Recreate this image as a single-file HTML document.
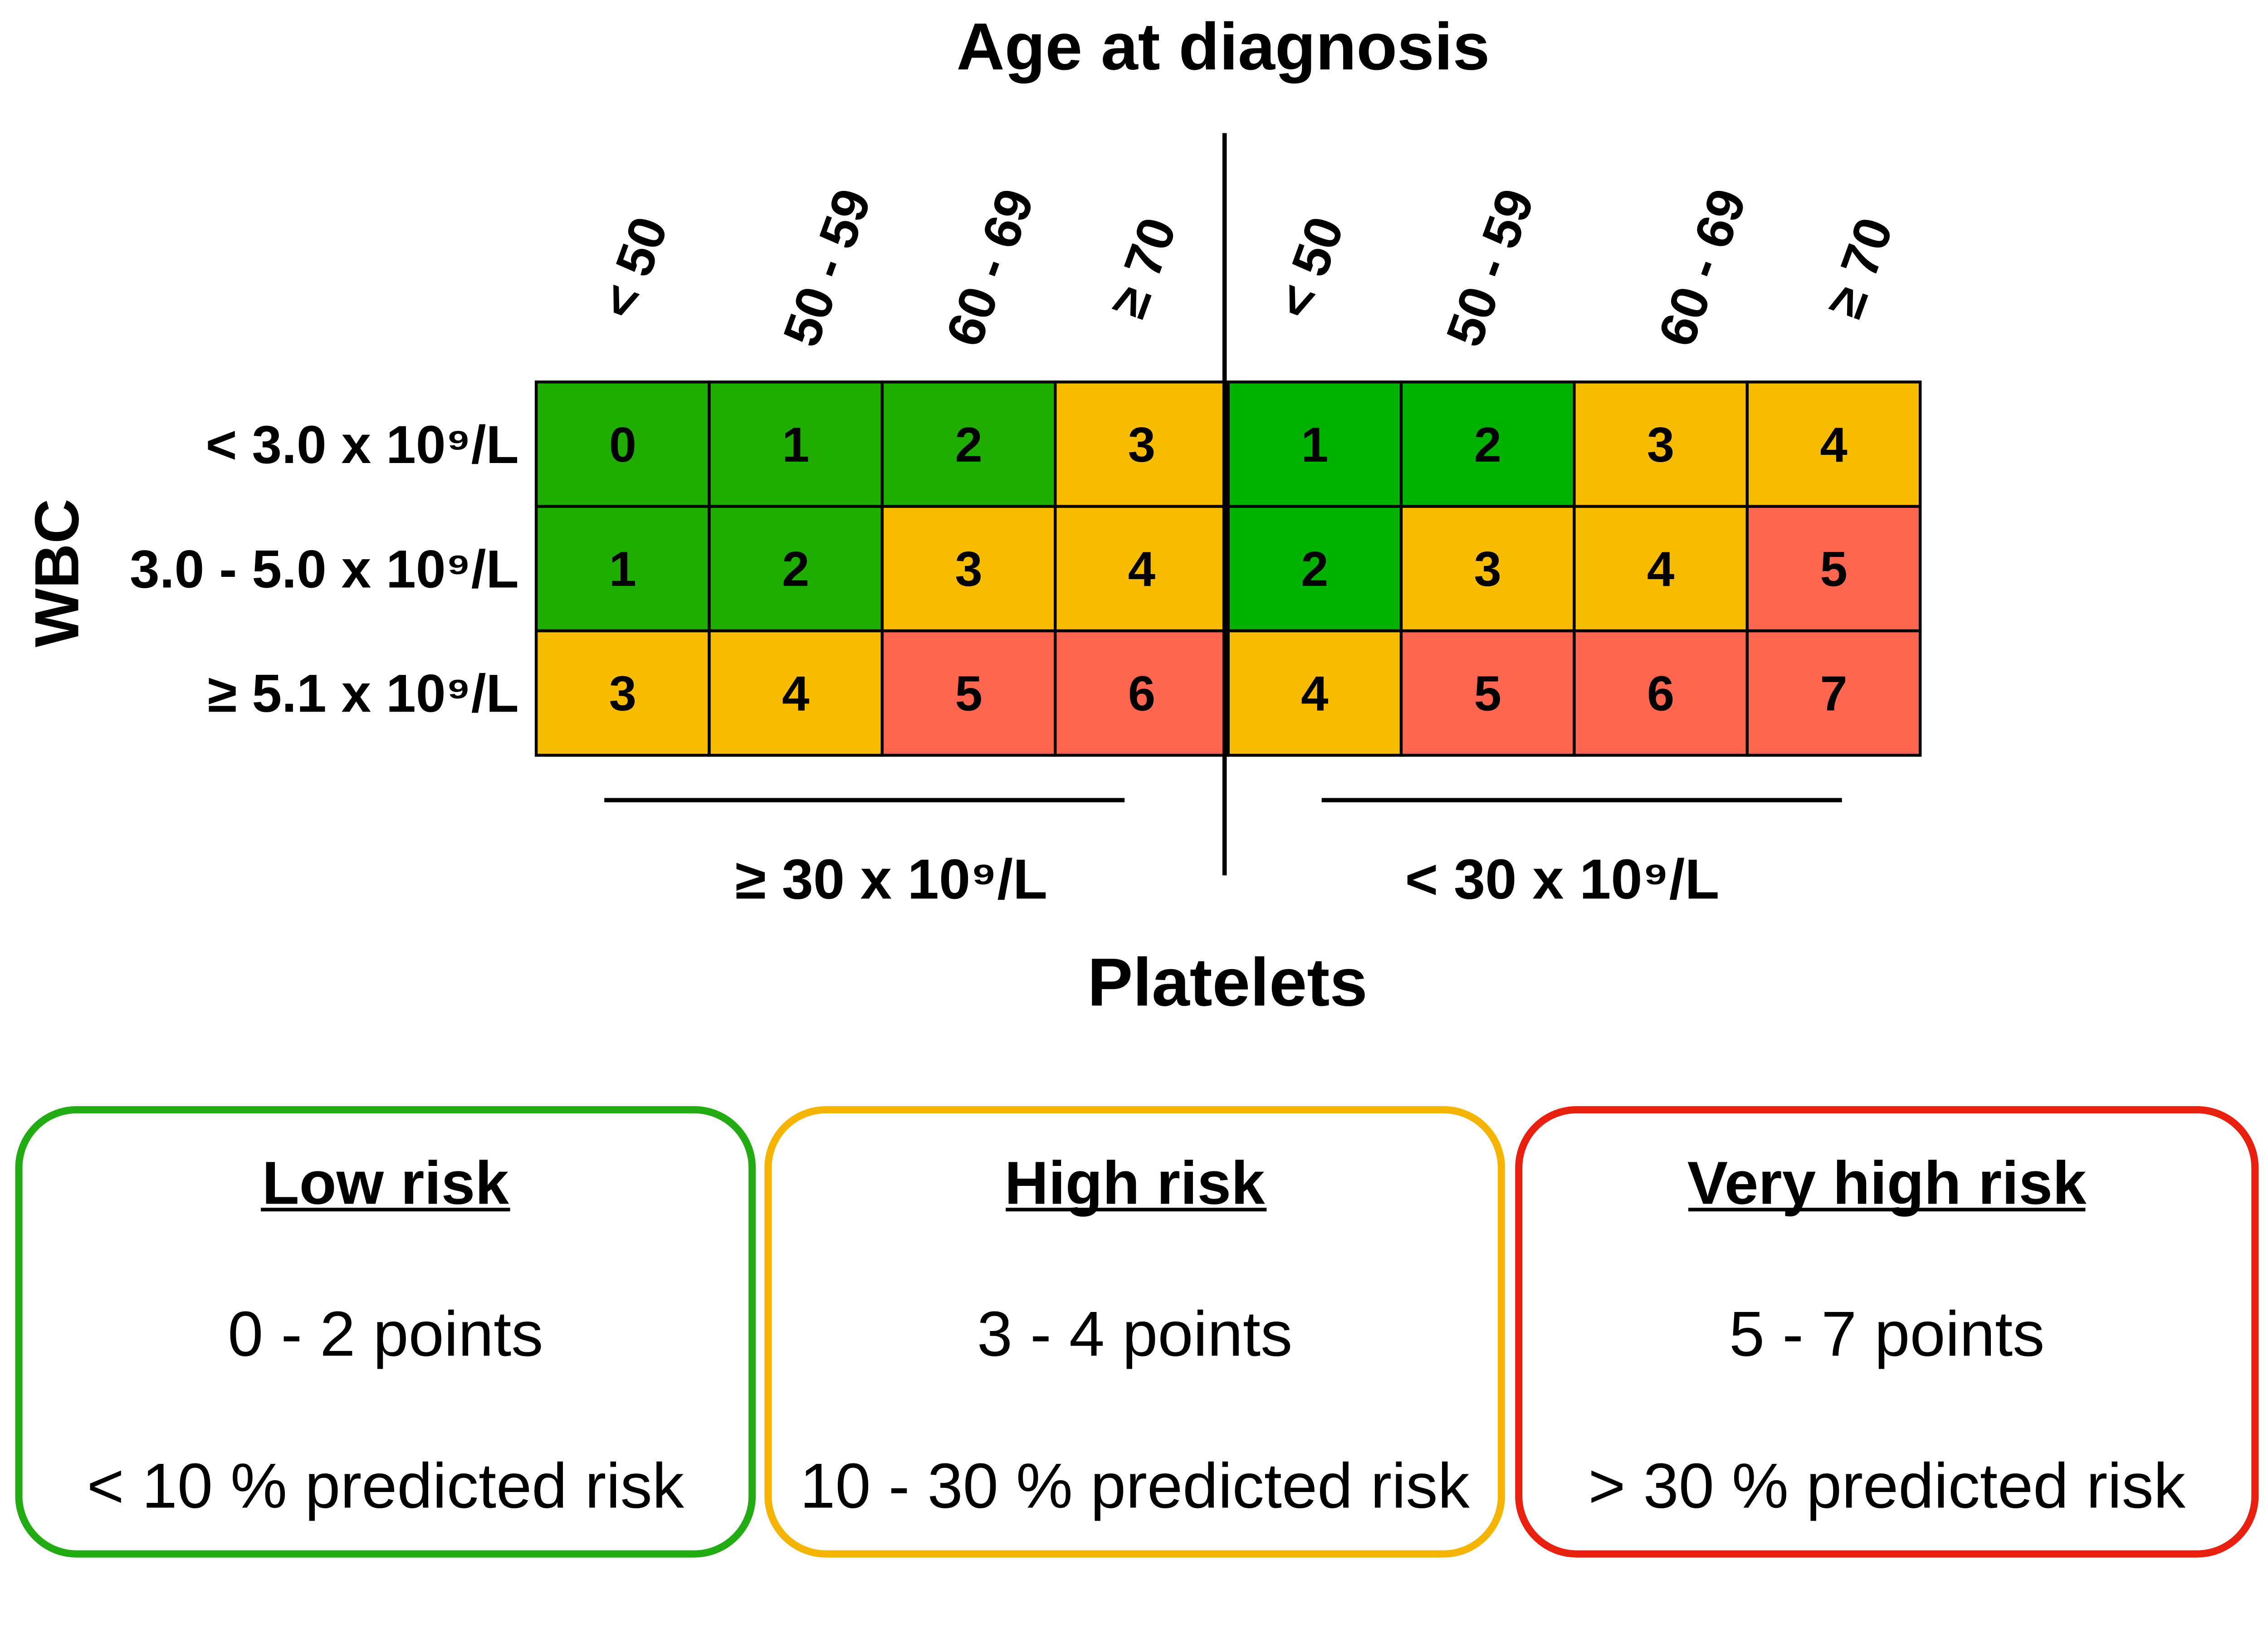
<!DOCTYPE html>
<html><head><meta charset="utf-8"><style>
html,body{margin:0;padding:0;background:#fff;width:100%;height:100%;overflow:hidden}
svg{display:block;position:fixed;left:0;top:0;width:100vw;height:100vh}
text{font-family:"Liberation Sans",sans-serif;font-weight:bold;fill:#000}
</style></head><body>
<svg id="chart" viewBox="0 0 1565 1139" preserveAspectRatio="none" xmlns="http://www.w3.org/2000/svg">
<text x="844" y="48" font-size="46" text-anchor="middle">Age at diagnosis</text>
<text transform="translate(54,396) rotate(-90)" font-size="43" text-anchor="middle">WBC</text>
<text x="847" y="695" font-size="47" text-anchor="middle">Platelets</text>
<g id="grid"></g>
<line x1="845" y1="92" x2="845" y2="605" stroke="#000" stroke-width="3"/>
<line x1="417" y1="553" x2="776" y2="553" stroke="#000" stroke-width="3"/>
<line x1="912" y1="553" x2="1271" y2="553" stroke="#000" stroke-width="3"/>
<text x="615" y="621" font-size="39" text-anchor="middle">≥ 30 x 10⁹/L</text>
<text x="1078" y="621" font-size="39" text-anchor="middle">&lt; 30 x 10⁹/L</text>

<g>
<rect x="13" y="767" width="506" height="307" rx="40" fill="none" stroke="#22ab12" stroke-width="5"/>
<text x="266" y="832" font-size="42" text-anchor="middle">Low risk</text>
<line x1="180" y1="836" x2="352" y2="836" stroke="#000" stroke-width="2.5"/>
<text x="266" y="937" font-size="44" text-anchor="middle" style="font-weight:normal">0 - 2 points</text>
<text x="266" y="1042" font-size="44" text-anchor="middle" style="font-weight:normal">&lt; 10 % predicted risk</text>
</g>
<g>
<rect x="530" y="767" width="506" height="307" rx="40" fill="none" stroke="#f5b400" stroke-width="5"/>
<text x="783" y="832" font-size="42" text-anchor="middle">High risk</text>
<line x1="694" y1="836" x2="874" y2="836" stroke="#000" stroke-width="2.5"/>
<text x="783" y="937" font-size="44" text-anchor="middle" style="font-weight:normal">3 - 4 points</text>
<text x="783" y="1042" font-size="44" text-anchor="middle" style="font-weight:normal">10 - 30 % predicted risk</text>
</g>
<g>
<rect x="1048" y="767" width="508" height="307" rx="40" fill="none" stroke="#e8200f" stroke-width="5"/>
<text x="1302" y="832" font-size="42" text-anchor="middle">Very high risk</text>
<line x1="1165" y1="836" x2="1439" y2="836" stroke="#000" stroke-width="2.5"/>
<text x="1302" y="937" font-size="44" text-anchor="middle" style="font-weight:normal">5 - 7 points</text>
<text x="1302" y="1042" font-size="44" text-anchor="middle" style="font-weight:normal">&gt; 30 % predicted risk</text>
</g>
</svg>
<script>
const ageGroups = ["< 50","50 - 59","60 - 69","≥ 70","< 50","50 - 59","60 - 69","≥ 70"];
const wbcGroups = ["< 3.0 x 10⁹/L","3.0 - 5.0 x 10⁹/L","≥ 5.1 x 10⁹/L"];
const scoresHighPlatelets = [[0,1,2,3],[1,2,3,4],[3,4,5,6]];
const scoresLowPlatelets = [[1,2,3,4],[2,3,4,5],[4,5,6,7]];
const labelOffsets = [8,22,15,1,-3,2,29,18];

const NS="http://www.w3.org/2000/svg";
const g=document.getElementById('grid');
const x0=370,x1=1325,y0=264,y1=522;
const cw=(x1-x0)/8, rh=(y1-y0)/3;
const xAt=i=>x0+i*cw, yAt=r=>y0+r*rh;
function color(v,right){ if(v<=2) return right?"#00b200":"#1fae00"; if(v<=4) return "#f7bb00"; return "#ff6650"; }
function mk(tag,attrs){const e=document.createElementNS(NS,tag);for(const k in attrs)e.setAttribute(k,attrs[k]);return e;}
for(let r=0;r<3;r++){
  const row=scoresHighPlatelets[r].concat(scoresLowPlatelets[r]);
  for(let c=0;c<8;c++){
    const v=row[c];
    const rect=mk('rect',{x:xAt(c),y:yAt(r),width:cw,height:rh,fill:color(v,c>=4),stroke:'#000','stroke-width':2});
    
    
    g.appendChild(rect);
    const t=mk('text',{x:xAt(c)+cw/2,y:yAt(r)+rh/2+12,'font-size':34,'text-anchor':'middle'});
    t.textContent=v;
    
    
    g.appendChild(t);
  }
  const rl=mk('text',{x:358,y:yAt(r)+rh/2+13,'font-size':37,'text-anchor':'end'});
  rl.textContent=wbcGroups[r];
  
  
  g.appendChild(rl);
}
for(let c=0;c<8;c++){
  const cx=xAt(c)+cw/2+labelOffsets[c], cy=185;
  const t=mk('text',{transform:`translate(${cx},${cy}) rotate(-70)`,'font-size':36,'text-anchor':'middle',dy:12});
  t.textContent=ageGroups[c];
  
  
  g.appendChild(t);
}
</script>
</body></html>
